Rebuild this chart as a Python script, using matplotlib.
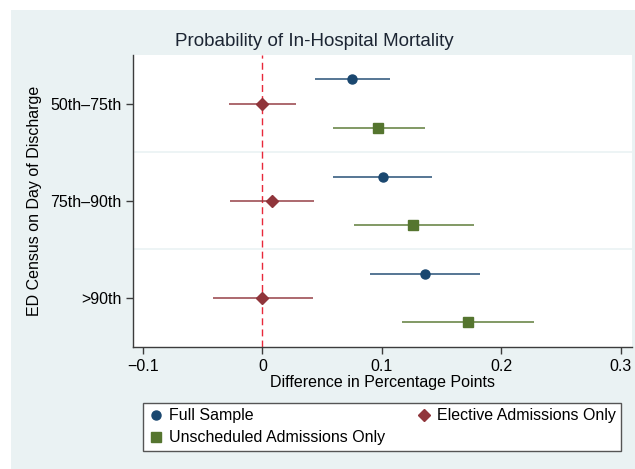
import matplotlib.pyplot as plt
from matplotlib.patches import Rectangle
from matplotlib.lines import Line2D

plt.rcParams['font.family'] = ['Liberation Sans', 'DejaVu Sans']

groups = ["50th\u201375th", "75th\u201390th", ">90th"]
series = ["Full Sample", "Elective Admissions Only", "Unscheduled Admissions Only"]

# point estimates and confidence interval bounds per series, in group order
full_est = [0.075, 0.101, 0.136]
full_lo = [0.044, 0.059, 0.090]
full_hi = [0.107, 0.142, 0.182]

elective_est = [0.000, 0.008, 0.000]
elective_lo = [-0.028, -0.027, -0.041]
elective_hi = [0.028, 0.043, 0.042]

unsched_est = [0.097, 0.126, 0.172]
unsched_lo = [0.059, 0.077, 0.117]
unsched_hi = [0.136, 0.177, 0.227]

colors = ["#1a476f", "#90353b", "#55752f"]
markers = ["o", "D", "s"]
sizes = [6.5, 6.5, 6.5]
offsets = [-0.25, 0.0, 0.25]

bg = "#eaf2f3"

fig = plt.figure(figsize=(6.35, 4.69), dpi=100)
fig.patches.append(Rectangle((11 / 635, 0), 1 - 11 / 635, 1 - 10 / 469,
                             transform=fig.transFigure, facecolor=bg,
                             edgecolor="none", zorder=-1))

ax = fig.add_axes([133.3 / 635, 1 - 346.7 / 469,
                   (631.7 - 133.3) / 635, (346.7 - 55) / 469])
ax.set_facecolor("white")

data = [(full_est, full_lo, full_hi),
        (elective_est, elective_lo, elective_hi),
        (unsched_est, unsched_lo, unsched_hi)]

handles = []
for (est, lo, hi), c, m, ms, off, name in zip(data, colors, markers, sizes, offsets, series):
    ys = [i + 1 + off for i in range(len(groups))]
    ax.hlines(ys, lo, hi, color=c, lw=1.3, alpha=0.8, zorder=3)
    ax.plot(est, ys, linestyle="none", marker=m, color=c, markersize=ms, zorder=4)
    handles.append(Line2D([], [], linestyle="none", marker=m, color=c, markersize=ms,
                          label=name))

ax.axvline(0, color="#e8283a", lw=1.0, dashes=(5, 3), zorder=2)
for yb in [1.5, 2.5]:
    ax.axhline(yb, color=bg, lw=1.2, zorder=1)

ax.set_xlim(-0.108, 0.309)
ax.set_ylim(3.5, 0.5)
ax.set_xticks([-0.1, 0, 0.1, 0.2, 0.3])
ax.set_xticklabels(["\u22120.1", "0", "0.1", "0.2", "0.3"])
ax.set_yticks([1, 2, 3])
ax.set_yticklabels(groups)

for s in ["top", "right"]:
    ax.spines[s].set_visible(False)
for s in ["left", "bottom"]:
    ax.spines[s].set_color("#3c3c3c")
    ax.spines[s].set_linewidth(1.0)
ax.tick_params(colors="#3c3c3c", labelcolor="black", labelsize=11.5, length=5, width=1.0)

ax.set_xlabel("Difference in Percentage Points", fontsize=11.5, labelpad=1)
ax.set_ylabel("ED Census on Day of Discharge", fontsize=11.5, labelpad=6)

fig.text(314.5 / 635, 1 - 41.7 / 469, "Probability of In-Hospital Mortality",
         ha="center", va="center", fontsize=13.5, color="#1c2533")

leg = fig.legend(handles=[handles[0], handles[2], handles[1]], ncol=2,
                 loc="lower left", mode="expand", borderaxespad=0,
                 bbox_to_anchor=(142.7 / 635, 18 / 469, (621 - 142.7) / 635, (451 - 401.7) / 469),
                 fontsize=11.5, frameon=True, fancybox=False, handletextpad=0.3,
                 handlelength=1.0, borderpad=0.35, labelspacing=0.45)
leg.get_frame().set_edgecolor("#555555")
leg.get_frame().set_linewidth(1.0)
leg.get_frame().set_facecolor("white")
leg.get_frame().set_alpha(1)

fig.savefig("out.png", dpi=100, facecolor="white")
